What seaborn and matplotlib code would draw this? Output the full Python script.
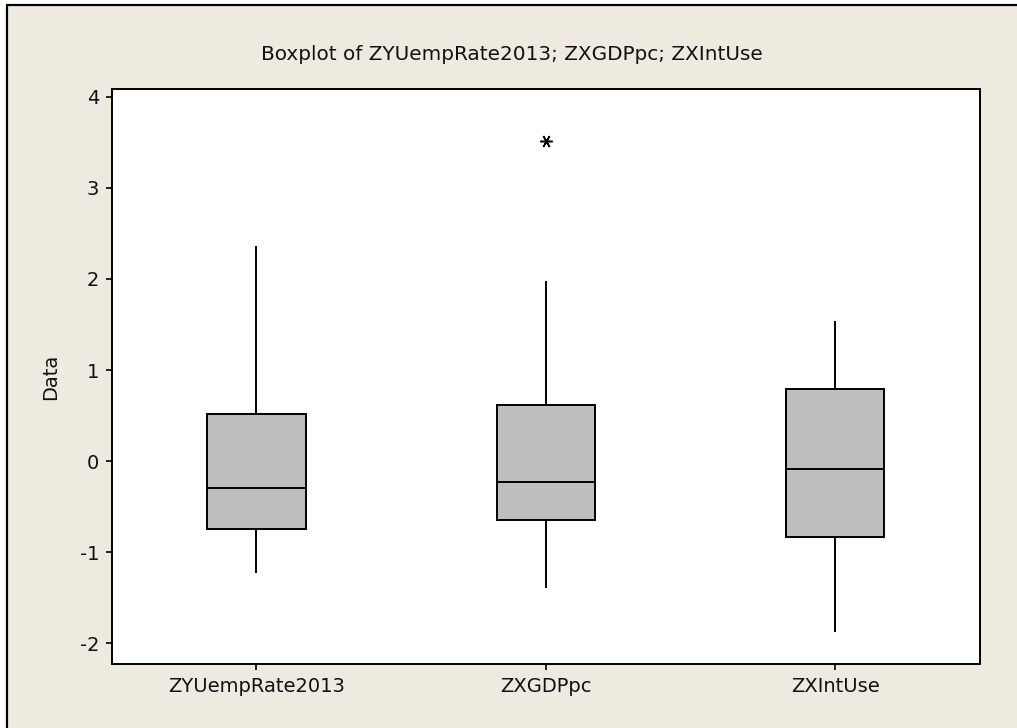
import numpy as np
import pandas as pd
import seaborn as sns
import matplotlib.pyplot as plt
from matplotlib.lines import Line2D

# values; quartiles/medians are repeated so the
# linear percentile of the 9 points lands on them (ZXGDPpc has one outlier)
variables = ['ZYUempRate2013', 'ZXGDPpc', 'ZXIntUse']
z_unemp = [-1.23, -0.75, -0.75, -0.30, -0.30, -0.30, 0.52, 0.52, 2.36]
z_gdp = [-1.39, -0.65, -0.65, -0.23, -0.23, -0.23, 0.62, 1.98, 3.51]
z_int = [-1.88, -0.83, -0.83, -0.09, -0.09, -0.09, 0.79, 0.79, 1.54]
y_ticks = [-2, -1, 0, 1, 2, 3, 4]

data = pd.DataFrame({variables[0]: z_unemp, variables[1]: z_gdp, variables[2]: z_int})
long_data = data.melt(var_name='variable', value_name='value')

sns.set_style('white')
plt.rcParams['font.family'] = ['DejaVu Sans']
plt.rcParams['axes.unicode_minus'] = False

bg = '#EEEAE0'
W, H = 1017, 728
fig = plt.figure(figsize=(10.17, 7.28), dpi=100, facecolor='white')
# minitab-like window: beige panel, black line on left and top only
x0 = 6.5 / W
y1 = 1 - 4.5 / H
fig.add_artist(plt.Rectangle((x0, 0), 1 - x0, y1, transform=fig.transFigure,
                             facecolor=bg, edgecolor='none', zorder=-1))
fig.add_artist(Line2D([x0, x0], [0, y1], transform=fig.transFigure, color='black', lw=1.6))
fig.add_artist(Line2D([x0, 1], [y1, y1], transform=fig.transFigure, color='black', lw=1.6))

ax = fig.add_axes([0.1098, 0.0875, 0.8538, 0.7909])
ax.set_facecolor('white')

sns.boxplot(data=long_data, x='variable', y='value', ax=ax, width=0.34,
            color='#BEBEBE', saturation=1, linecolor='black', linewidth=1.4,
            showcaps=False,
            flierprops=dict(marker=(6, 2, 90), markersize=9,
                            markeredgecolor='black', markeredgewidth=1.1))

ax.set_xlim(-0.5, 2.5)
ax.set_ylim(-2.23, 4.09)
ax.set_yticks(y_ticks)
ax.set_xlabel('')
ax.set_ylabel('Data', fontsize=14, color='#111111')
ax.yaxis.set_label_coords(-0.0595, 0.5)

for s in ax.spines.values():
    s.set_visible(True)
    s.set_color('black')
    s.set_linewidth(1.4)
ax.tick_params(axis='both', which='major', direction='out', length=4,
               width=1.2, color='black', labelsize=14, labelcolor='#111111',
               left=True, bottom=True, pad=5)

fig.text(512 / W, 1 - 54 / H, 'Boxplot of ZYUempRate2013; ZXGDPpc; ZXIntUse',
         ha='center', va='center', fontsize=14.4, color='#111111')

fig.savefig('out.png', dpi=100, facecolor='white')
